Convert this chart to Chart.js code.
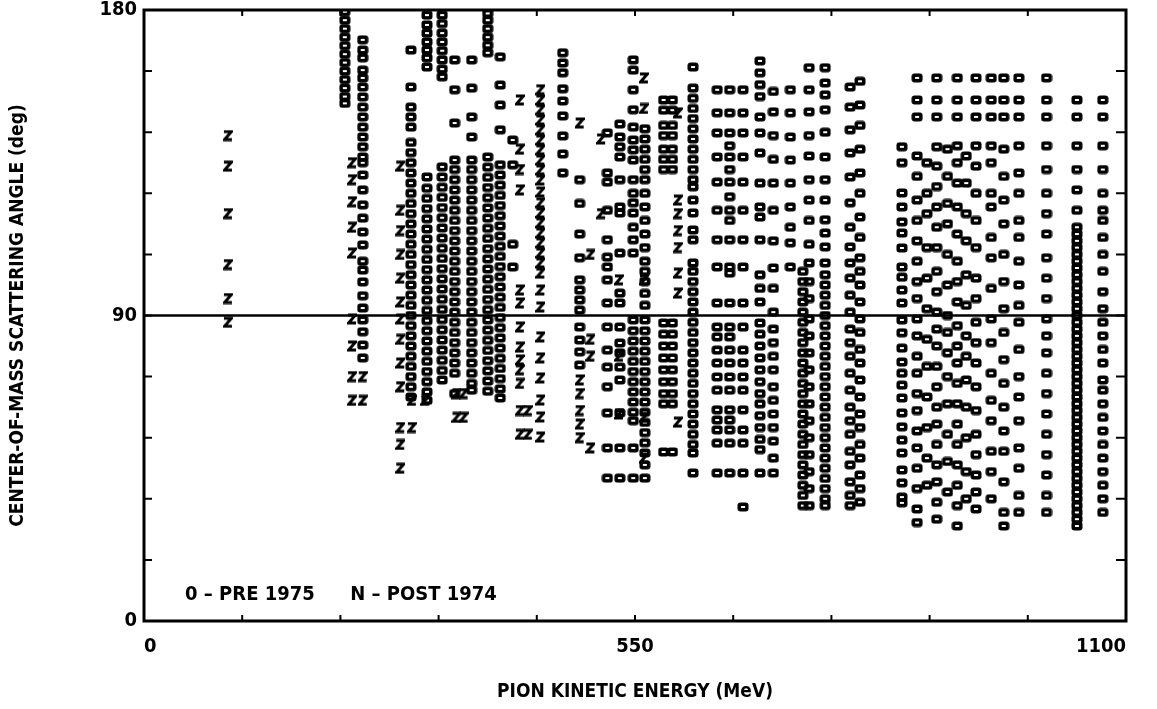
<!DOCTYPE html>
<html>
<head>
<meta charset="utf-8">
<script src="https://cdn.jsdelivr.net/npm/chart.js@4/dist/chart.umd.min.js"></script>
<style>
  html, body { margin: 0; padding: 0; background: #fff; }
  canvas { display: block; }
</style>
</head>
<body>
<canvas id="chart" width="1157" height="709"></canvas>
<script>
// pion kinetic energy (MeV) of each column of pre-1975 points ("0")
const preEnergies = [225, 245, 299, 317, 334, 348, 367, 385, 399, 413, 469, 488, 519, 533, 548, 561, 582, 592, 615,
    642, 656, 671, 690, 705, 724, 738, 745, 763, 791, 802, 849, 866, 877, 888, 900, 911, 921, 932, 949, 963, 980,
    1011, 1045, 1074];
// c.m. scattering angles (deg) for each column above
const preAngles = [
    [179.5, 177, 174.5, 172, 169.5, 167, 164.5, 162, 159.5, 157, 154.5, 152.5],
    [171.2, 168.2, 165.9, 162.3, 160, 157.3, 154.4, 151.4, 148.5, 145.5, 142.6, 139.7, 136.7, 135, 131.4, 127, 122.6, 118.7, 114.6, 110.8, 106, 103.4, 99.9, 95.8, 92.2, 88.7, 85.2, 81.3, 77.5],
    [168.2, 157.3, 151.4, 148.5, 145.5, 141, 138, 135, 132, 129, 126, 123, 120, 117, 114, 111, 108, 105, 102, 99, 96, 93, 90, 87, 84, 81, 78, 75, 72, 69, 66],
    [178.5, 175.6, 173.2, 170.6, 168.2, 165.9, 163.2, 130.8, 127.5, 124.5, 121.5, 118.5, 115.5, 112.5, 109.5, 106.5, 103.5, 100.5, 97.5, 94.5, 91.5, 88.5, 85.5, 82.5, 79.5, 76.5, 73.5, 70.5, 67.5, 65],
    [178.5, 176, 173.2, 170.6, 168, 165.3, 162.6, 160.3, 133.8, 130.8, 127.8, 124.8, 121.8, 118.8, 115.8, 112.8, 109.8, 106.8, 103.8, 100.8, 97.8, 94.8, 91.8, 88.8, 85.8, 82.8, 79.8, 76.8, 73.8, 71],
    [165.3, 156.5, 146.7, 135.8, 133, 130, 127, 124, 121, 118, 115, 112, 109, 106, 103, 100, 97, 94, 91, 88, 85, 82, 79, 76, 73, 67],
    [165.3, 157, 148.5, 142.6, 135.8, 133, 130, 127, 124, 121, 118, 115, 112, 109, 106, 103, 100, 97, 94, 91, 88, 85, 82, 79, 76, 73, 70, 68],
    [179, 177, 174.5, 172, 169.6, 167.4, 136.7, 133.7, 130.7, 127.7, 124.7, 121.7, 118.7, 115.7, 112.7, 109.7, 106.7, 103.7, 100.7, 97.7, 94.7, 91.7, 88.7, 85.7, 82.7, 79.7, 76.7, 73.7, 70.7, 67.7],
    [166.2, 157.9, 152, 144.7, 134.4, 131.4, 128.4, 125.4, 122.4, 119.4, 116.4, 113.4, 110.4, 107.4, 104.4, 101.4, 98.4, 95.4, 92.4, 89.4, 86.4, 83.4, 80.4, 77.4, 74.4, 71.4, 68.4, 65.7],
    [141.7, 134.4, 111, 104.3],
    [167.4, 164.4, 161.5, 156.8, 153.2, 148.8, 142.9, 137.6, 132],
    [130, 123, 114, 107, 100.5, 97.5, 94.6, 91.6, 86.6, 82.8, 79.3, 75.4],
    [143.8, 132, 129.3, 121, 112.3, 107.2, 104.3, 100.5, 93.7, 86.6, 79.8, 74.8, 69, 61.3, 51, 42.1],
    [146.4, 142.6, 139.7, 136.7, 130, 122, 120.2, 108.4, 96.6, 93.7, 86.6, 81.9, 79, 74.8, 71, 61.3, 51, 42.1],
    [165.3, 162.3, 156.5, 150.6, 145.5, 141.7, 138.8, 135.8, 130, 126, 123.2, 120.2, 116, 112.3, 108.4, 88.7, 85.5, 82.5, 79.5, 76.5, 73.5, 70.5, 67.5, 64.5, 61.5, 59, 51, 42.1],
    [145, 142, 139, 136, 133, 130, 126, 122, 118, 114, 110, 106, 103, 100, 96.5, 93, 88.7, 85.5, 82.5, 79.5, 76.5, 73.5, 70.5, 67.5, 64.5, 61.5, 58.5, 55.5, 52.5, 49.5, 46, 42.1],
    [153.5, 150.5, 146, 143, 139, 136, 133, 87.8, 84.5, 81, 77.5, 74, 70.5, 67, 64, 49.8],
    [153.5, 150.5, 146, 143, 139, 136, 133, 87.8, 84.5, 81, 77.5, 74, 70.5, 67, 64, 49.8],
    [163.2, 157, 154, 151, 148, 145, 142, 139, 136, 133, 130, 127.9, 124, 120.2, 115.2, 112.3, 105.5, 103, 100, 97, 94, 91, 88, 85, 82, 79, 76, 73, 70, 67, 64, 61, 58, 55, 52, 49.5, 43.6],
    [156.5, 149.7, 143.8, 136.7, 129.3, 121, 112.3, 104.3, 93.7, 86.6, 83.7, 79.8, 76, 71.9, 68, 62.2, 59.2, 56.3, 52.4, 43.6],
    [156.5, 149.7, 143.8, 140, 136.7, 133, 129.3, 125, 121, 118, 112.3, 104.3, 102.5, 93.7, 86.6, 83.7, 79.8, 76, 71.9, 68, 62.2, 59.2, 56.3, 52.4, 43.6],
    [156.5, 149.7, 143.8, 136.7, 129.3, 121, 112.3, 104.3, 93.7, 86.6, 79.8, 76, 71.9, 68, 62.2, 56.3, 52.4, 43.6, 33.6],
    [165, 161.5, 158, 154.5, 148.5, 143.8, 137.9, 129, 122, 119, 112.3, 102, 98, 94, 87.8, 84.5, 81, 77.5, 74, 70.5, 67, 64, 60.5, 57, 53.5, 50.5, 43.6],
    [156, 150, 143, 136, 129, 121, 112, 104, 98, 91, 86, 82, 78, 74, 69, 65, 61, 57, 53, 48, 43.6],
    [156.5, 149.7, 142.6, 135.8, 129, 122, 116, 111.4, 104.3],
    [103, 100, 97, 94, 91, 88, 85, 82, 79, 76, 73, 70, 67, 64, 61, 58, 55, 52, 49, 46, 43, 40, 37, 34],
    [163, 156.5, 150, 143, 137, 130, 124, 118, 111, 105.5, 100, 95, 89, 84, 79, 74, 69, 64, 59, 54, 49, 44, 39, 34],
    [163, 158.5, 155, 150.6, 144, 136.7, 130, 124, 118.2, 114.3, 110.2, 105.5, 102, 99, 96, 93, 90, 87, 84, 81, 78, 75, 72, 69, 66, 63, 60, 57, 54, 51, 48, 45, 42, 39, 36, 34],
    [157.3, 151.4, 144.7, 137.9, 130.8, 123.2, 116, 110.2, 105.5, 101, 96, 91, 86, 82, 78, 73, 68, 63, 59, 55, 50, 46, 41, 37, 34],
    [159, 152, 146, 139, 132, 126, 119, 113, 107, 103, 99, 94, 89, 85, 80, 76, 71, 66, 61, 57, 52, 48, 43, 39, 35],
    [139.7, 135, 126.1, 122, 117.6, 114.3, 109.9, 104.3, 101.3, 97.5, 93.7, 88.7, 84.9, 80.4, 76.3, 73, 69.5, 65.7, 61.3, 57.2, 53.3, 49.5, 44.5, 40.7, 36.5, 34.8],
    [160, 153.5, 148.5, 137, 131, 124, 118, 112, 106, 100, 95, 89, 84, 78, 73, 67, 62, 56, 51, 45, 39, 33, 29],
    [135, 126, 120, 110, 101, 92, 83, 75, 66, 57, 48, 40],
    [160, 153.5, 148.5, 139.7, 134, 128, 122, 116, 110, 103, 97, 91, 86, 81, 75, 69, 63, 58, 52, 46, 41, 35, 30],
    [139, 131, 123, 117, 108, 99, 90, 85, 79, 72, 64, 55, 47, 38],
    [160, 153.5, 148.5, 140, 135, 129, 122, 114, 106, 100, 94, 87, 81, 76, 70, 64, 58, 52, 46, 40, 34, 28],
    [137, 129, 120, 112, 102, 93, 84, 78, 71, 63, 54, 44, 36],
    [160, 153.5, 148.5, 140, 134, 126, 118, 110, 101, 95, 88, 82, 76, 69, 62, 55, 49, 43, 38, 33],
    [160, 153.5, 148.5, 140, 135, 126, 122, 113, 107, 98, 89, 82, 73, 65, 59, 50, 44, 36],
    [160, 153.5, 148.5, 139, 131, 124, 117, 108, 100, 92, 85, 77, 70, 63, 56, 50, 41, 32, 28],
    [160, 153.5, 148.5, 140, 132, 126, 118, 113, 106, 99, 93, 88, 80, 72, 66, 59, 51, 45, 37, 32],
    [160, 153.5, 148.5, 140, 133, 126, 120, 114, 107, 101, 95, 89, 84, 79, 73, 67, 61, 55, 49, 43, 37, 32],
    [153.5, 148.5, 140, 133, 127, 121, 116, 114, 112, 110, 108, 106, 104, 102, 100, 98, 96, 94, 92, 90, 88, 86, 84, 82, 80, 78, 76, 74, 72, 70, 68, 66, 64, 62, 60, 58, 56, 54, 52, 50, 48, 46, 44, 42, 40, 38, 36, 34, 32, 30, 28],
    [153.5, 148.5, 140, 133, 126, 121, 118, 113, 108, 103, 97, 92, 88, 84, 80, 76, 71, 68, 64, 60, 56, 52, 48, 44, 40, 36, 32]
];

// post-1974 points ("N", drawn turned on its side)
const postEnergies = [94, 233, 245, 287, 300, 315, 350, 358, 421, 430, 444, 488, 500, 512, 532, 560, 598];
const postAngles = [
    [143, 134, 120, 105, 95, 88],
    [135, 130, 123.5, 116, 108.4, 89, 81, 72, 65],
    [72, 65],
    [134, 121, 115, 108, 101, 94, 89, 83, 76, 69, 57, 52, 45],
    [65, 57],
    [65],
    [67, 60],
    [67, 60],
    [153.5, 139, 133, 127, 97.5, 93.7, 86.6, 80.7, 76.9, 74, 70, 62, 55],
    [62, 55],
    [156.5, 153.5, 150.6, 147.6, 144.7, 141.7, 138.8, 135.8, 132.9, 129.9, 126.4, 123.2, 120.2, 117.3, 114.3, 111.4, 108.4, 105.5, 102.5, 97.5, 92.5, 83.7, 77.5, 71.6, 65.1, 60.1, 54.2],
    [146.7, 71, 67, 62, 58, 54],
    [108, 83, 78, 51],
    [142, 120],
    [100.5, 78, 61],
    [160, 151, 100.5, 60, 48],
    [149.7, 124, 120, 115, 110, 102.5, 96.6, 58.6]
];

const xTickLabels = [0, 550, 1100];
const yTickLabels = [0, 90, 180];
const xMinorTicks = [110, 220, 330, 440, 550, 660, 770, 880, 990];
const yMinorTicks = [18, 36, 54, 72, 90, 108, 126, 144, 162];
const midAngle = 90;
const legendLabels = ['0 \u2013 PRE 1975', 'N \u2013 POST 1974'];

const FONT_FAMILY = "'Liberation Sans Narrow', 'DejaVu Sans Condensed', 'Arial Narrow', 'DejaVu Sans', sans-serif";

function toPoints(energies, angles) {
    const pts = [];
    energies.forEach((e, i) => {
        angles[i].forEach(a => pts.push({ x: e, y: a }));
    });
    return pts;
}

// little rounded box, thick outline with a small hole
function makeBoxMark() {
    const c = document.createElement('canvas');
    c.width = 12; c.height = 10;
    const g = c.getContext('2d');
    g.fillStyle = '#000';
    g.beginPath();
    g.roundRect(0.5, 0.5, 11, 9, 3);
    g.fill();
    g.clearRect(4, 4, 4, 2);
    return c;
}

// an N lying on its side, looks like a Z
function makeZedMark() {
    const c = document.createElement('canvas');
    c.width = 10; c.height = 12;
    const g = c.getContext('2d');
    g.strokeStyle = '#000';
    g.lineWidth = 3;
    g.lineJoin = 'miter';
    g.beginPath();
    g.moveTo(1, 2);
    g.lineTo(8.5, 2);
    g.lineTo(1.5, 10);
    g.lineTo(9, 10);
    g.stroke();
    return c;
}

const framePlugin = {
    id: 'frame',
    afterDatasetsDraw(chart) {
        const { ctx, chartArea: a, scales: { x, y } } = chart;
        ctx.save();
        ctx.strokeStyle = '#000';

        // 90 deg line
        ctx.lineWidth = 2.5;
        const ym = y.getPixelForValue(midAngle);
        ctx.beginPath();
        ctx.moveTo(a.left, ym);
        ctx.lineTo(a.right, ym);
        ctx.stroke();

        // inward ticks
        ctx.lineWidth = 2;
        ctx.beginPath();
        xMinorTicks.forEach(v => {
            const px = x.getPixelForValue(v);
            ctx.moveTo(px, a.bottom); ctx.lineTo(px, a.bottom - 6);
            ctx.moveTo(px, a.top); ctx.lineTo(px, a.top + 6);
        });
        yMinorTicks.forEach(v => {
            const py = y.getPixelForValue(v);
            ctx.moveTo(a.left, py); ctx.lineTo(a.left + 8, py);
            ctx.moveTo(a.right, py); ctx.lineTo(a.right - 10, py);
        });
        ctx.stroke();

        // frame
        ctx.lineWidth = 3;
        ctx.strokeRect(a.left, a.top, a.right - a.left, a.bottom - a.top);

        // key
        ctx.fillStyle = '#000';
        ctx.font = 'bold 20px ' + FONT_FAMILY;
        ctx.textBaseline = 'alphabetic';
        ctx.fillText(legendLabels[0], x.getPixelForValue(46), y.getPixelForValue(6.2));
        ctx.fillText(legendLabels[1], x.getPixelForValue(231), y.getPixelForValue(6.2));
        ctx.restore();
    }
};

const tickFont = { family: FONT_FAMILY, weight: 'bold', size: 20 };
const titleFont = { family: FONT_FAMILY, weight: 'bold', size: 19 };

new Chart(document.getElementById('chart'), {
    type: 'scatter',
    data: {
        datasets: [
            {
                label: 'PRE 1975',
                data: toPoints(preEnergies, preAngles),
                pointStyle: makeBoxMark(),
                pointRadius: 5
            },
            {
                label: 'POST 1974',
                data: toPoints(postEnergies, postAngles),
                pointStyle: makeZedMark(),
                pointRadius: 5
            }
        ]
    },
    options: {
        responsive: false,
        animation: false,
        events: [],
        layout: { padding: { top: 10, right: 31, left: 0, bottom: 0 } },
        plugins: {
            legend: { display: false },
            tooltip: { enabled: false }
        },
        scales: {
            x: {
                type: 'linear',
                min: 0,
                max: 1100,
                afterBuildTicks: s => { s.ticks = xTickLabels.map(v => ({ value: v })); },
                afterFit: s => { s.height = 88; s.paddingLeft = 0; s.paddingRight = 0; },
                grid: { display: false, drawTicks: false },
                border: { display: false },
                ticks: {
                    color: '#000', font: tickFont, padding: 14, align: 'inner', maxRotation: 0,
                    callback: v => String(v)
                },
                title: {
                    display: true,
                    text: 'PION KINETIC ENERGY (MeV)',
                    color: '#000',
                    font: titleFont,
                    padding: { top: 0, bottom: 6 }
                }
            },
            y: {
                type: 'linear',
                min: 0,
                max: 180,
                afterBuildTicks: s => { s.ticks = yTickLabels.map(v => ({ value: v })); },
                afterFit: s => { s.width = 144; s.paddingTop = 0; s.paddingBottom = 0; },
                grid: { display: false, drawTicks: false },
                border: { display: false },
                ticks: { color: '#000', font: tickFont, padding: 7, callback: v => String(v) },
                title: {
                    display: true,
                    text: 'CENTER-OF-MASS SCATTERING ANGLE (deg)',
                    color: '#000',
                    font: titleFont,
                    padding: { top: 7, bottom: 0 }
                }
            }
        }
    },
    plugins: [framePlugin]
});
</script>
</body>
</html>
